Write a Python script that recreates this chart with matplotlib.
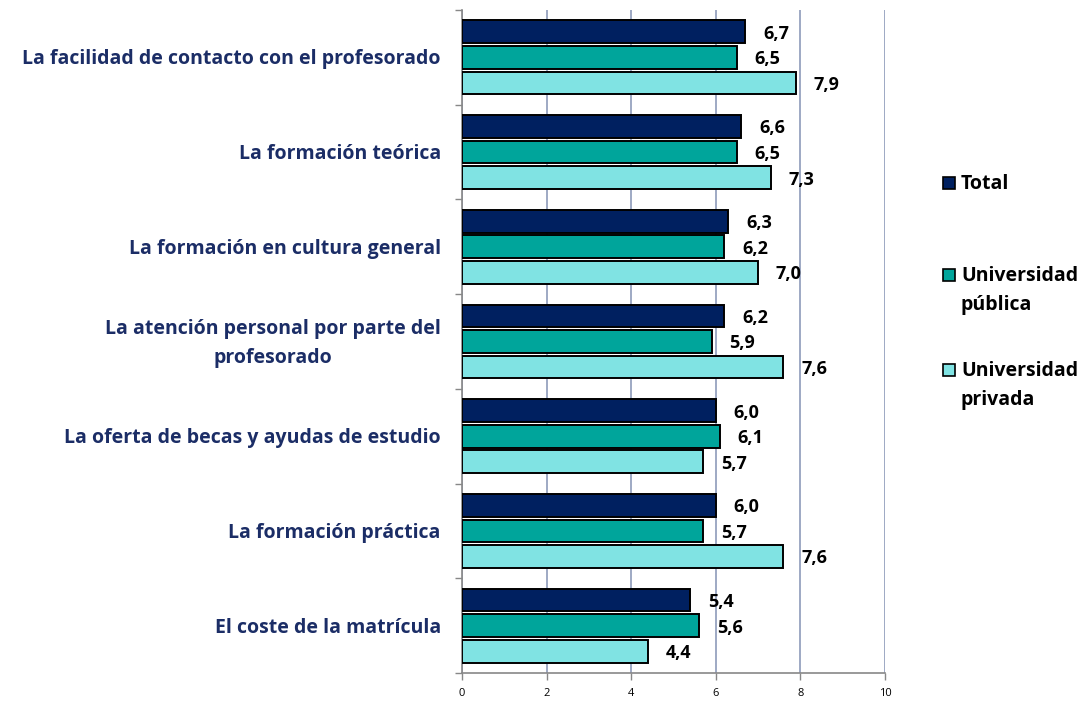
import numpy as np
import matplotlib
matplotlib.use("Agg")
import matplotlib.pyplot as plt
from matplotlib.patches import Rectangle

plt.rcParams["font.family"] = ["Open Sans", "DejaVu Sans"]

# ── data ──────────────────────────────────────────────────────────────────────
CATEGORIES = [
    "La facilidad de contacto con el profesorado",
    "La formación teórica",
    "La formación en cultura general",
    "La atención personal por parte del\nprofesorado",
    "La oferta de becas y ayudas de estudio",
    "La formación práctica",
    "El coste de la matrícula",
]
TOTAL = [6.7, 6.6, 6.3, 6.2, 6.0, 6.0, 5.4]
PUBLICA = [6.5, 6.5, 6.2, 5.9, 6.1, 5.7, 5.6]
PRIVADA = [7.9, 7.3, 7.0, 7.6, 5.7, 7.6, 4.4]
SERIES_LABELS = ["Total", "Universidad\npública", "Universidad\nprivada"]
X_TICKS = [0, 2, 4, 6, 8, 10]

COLORS = ["#002060", "#00A59B", "#80E3E3"]
LABEL_COLOR = "#1B2D66"
GRID_COLOR = "#8E9BBA"

fig = plt.figure(figsize=(10.82, 7.02), dpi=100)
ax = fig.add_axes([462 / 1082, 1 - 673 / 702, 423 / 1082, 663 / 702])

n = len(CATEGORIES)
y = np.arange(n)          # 0 at top after inversion
offsets = [-0.27, 0.0, 0.27]
bar_h = 0.24

for series, off, col in zip([TOTAL, PUBLICA, PRIVADA], offsets, COLORS):
    ax.barh(y + off, series, height=bar_h, color=col,
            edgecolor="black", linewidth=1.4, zorder=3)
    for yi, v in zip(y, series):
        ax.text(v + 0.42, yi + off + 0.02, f"{v:.1f}".replace(".", ","),
                ha="left", va="center", fontsize=13, fontweight="bold",
                color="black", zorder=4)

ax.set_xlim(0, 10)
ax.set_ylim(n - 0.5, -0.5)
ax.set_xticks(X_TICKS)
ax.set_xticklabels([str(t) for t in X_TICKS], fontsize=8)
ax.grid(axis="x", color=GRID_COLOR, linewidth=1.2, zorder=0)

# category labels, ticks at group boundaries
ax.set_yticks(np.arange(-0.5, n, 1.0))
ax.set_yticklabels([])
ax.tick_params(axis="y", length=5, color="#888888", width=1)
ax.tick_params(axis="x", length=5, color="#888888", width=1, pad=6)
for yi, cat in zip(y, CATEGORIES):
    ax.text(-0.5, yi + 0.02, cat, ha="right", va="center", multialignment="center",
            fontsize=14, fontweight="bold", color=LABEL_COLOR,
            transform=ax.transData, linespacing=1.55)

for side in ["top", "right"]:
    ax.spines[side].set_visible(False)
for side in ["left", "bottom"]:
    ax.spines[side].set_color("#888888")
    ax.spines[side].set_linewidth(1.2)

# ── legend (manual, Excel style: marker beside first line) ────────────────────
leg_y = [183, 275, 370]
for lab, col, py in zip(SERIES_LABELS, COLORS, leg_y):
    fig.patches.append(Rectangle(((943) / 1082, 1 - (py + 6) / 702),
                                 12 / 1082, 12 / 702, transform=fig.transFigure,
                                 facecolor=col, edgecolor="black", linewidth=1.2))
    fig.text(961 / 1082, 1 - (py - 9) / 702, lab, ha="left", va="top",
             fontsize=14, fontweight="bold", color="black", linespacing=1.6)

fig.savefig("out.png", dpi=100)
